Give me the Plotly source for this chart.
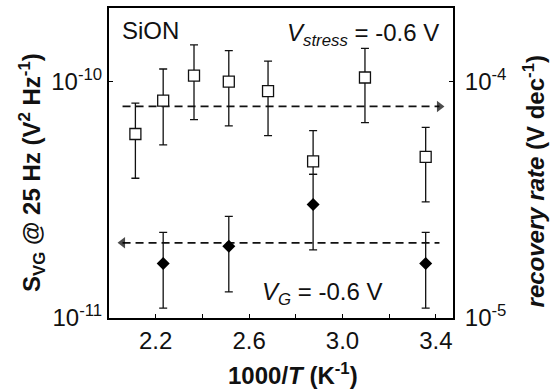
import plotly.graph_objects as go

# 1000/T (K^-1) for 200, 175, 150, 125, 100, 75, 50, 25 degC
inv_temp = [2.113, 2.232, 2.364, 2.513, 2.681, 2.874, 3.096, 3.356]
# recovery rate (V dec^-1), open squares, right axis
rate = [6.0e-5, 8.3e-5, 1.06e-4, 1.0e-4, 9.1e-5, 4.6e-5, 1.04e-4, 4.8e-5]
rate_hi = [8.1e-5, 1.13e-4, 1.43e-4, 1.35e-4, 1.22e-4, 6.2e-5, 1.38e-4, 6.4e-5]
rate_lo = [3.9e-5, 5.4e-5, 6.9e-5, 6.5e-5, 5.9e-5, 4.05e-5, 6.7e-5, 3.1e-5]

# S_VG at 25 Hz (V^2 Hz^-1), filled diamonds, left axis
inv_temp_svg = [2.232, 2.513, 2.874, 3.356]
svg = [1.70e-11, 2.01e-11, 3.02e-11, 1.70e-11]
svg_hi = [2.30e-11, 2.69e-11, 4.05e-11, 2.30e-11]
svg_lo = [1.10e-11, 1.29e-11, 1.94e-11, 1.10e-11]

# dashed guide levels (arrow points to the axis each series belongs to)
guide_x = [2.058, 3.415]
guide_rate = 7.85e-5
guide_svg = 2.08e-11

x_ticks = [2.2, 2.4, 2.6, 2.8, 3.0, 3.2, 3.4]
x_ticktext = ["2.2", "", "2.6", "", "3.0", "", "3.4"]

FONT = "Arial, 'Liberation Sans', sans-serif"
INK = "#111111"

fig = go.Figure()

# guides: dashed line with a solid triangular head at the end
fig.add_trace(go.Scatter(
    x=guide_x, y=[guide_rate, guide_rate], yaxis="y2", mode="lines+markers",
    line=dict(color=INK, width=1.8, dash="8px,5px"),
    marker=dict(symbol="triangle-right", size=[0, 10], color="black", line=dict(width=0)),
    hoverinfo="skip", showlegend=False))
fig.add_trace(go.Scatter(
    x=guide_x, y=[guide_svg, guide_svg], mode="lines+markers",
    line=dict(color=INK, width=1.8, dash="8px,5px"),
    marker=dict(symbol="triangle-left", size=[10, 0], color="black", line=dict(width=0)),
    hoverinfo="skip", showlegend=False))

fig.add_trace(go.Scatter(
    x=inv_temp, y=rate, yaxis="y2", mode="markers",
    error_y=dict(type="data", symmetric=False,
                 array=[h - v for h, v in zip(rate_hi, rate)],
                 arrayminus=[v - l for v, l in zip(rate, rate_lo)],
                 color=INK, thickness=1.3, width=4),
    marker=dict(symbol="square", size=11, color="white",
                line=dict(color=INK, width=1.3)),
    showlegend=False))

fig.add_trace(go.Scatter(
    x=inv_temp_svg, y=svg, mode="markers",
    error_y=dict(type="data", symmetric=False,
                 array=[h - v for h, v in zip(svg_hi, svg)],
                 arrayminus=[v - l for v, l in zip(svg, svg_lo)],
                 color=INK, thickness=1.3, width=4),
    marker=dict(symbol="diamond", size=10, color="black"),
    showlegend=False))

axis_common = dict(showline=True, linecolor="black", linewidth=2,
                   ticks="inside", ticklen=4, tickcolor="black", tickwidth=1,
                   showgrid=False, zeroline=False,
                   tickfont=dict(family=FONT, size=24, color=INK))

fig.update_layout(
    width=556, height=391,
    margin=dict(l=109, r=103, t=6, b=73),
    paper_bgcolor="white", plot_bgcolor="white",
    font=dict(family=FONT, color=INK),
    xaxis=dict(range=[2.0, 3.473], tickvals=x_ticks, ticktext=x_ticktext,
               mirror=True, **axis_common),
    yaxis=dict(type="log", range=[-11, -9.689], tickvals=[1e-11, 1e-10],
               ticktext=["10<sup>-11</sup>", "10<sup>-10</sup>"],
               mirror=True, **axis_common),
    yaxis2=dict(type="log", range=[-5, -3.689], tickvals=[1e-5, 1e-4],
                ticktext=["10<sup>-5</sup>", "10<sup>-4</sup>"],
                overlaying="y", side="right", ticklabelstandoff=5, **axis_common),
)

ann = dict(xref="paper", yref="paper", showarrow=False,
           font=dict(family=FONT, size=24, color=INK))
fig.add_annotation(text="SiON", x=0.032, y=0.926, xanchor="left", yanchor="middle", **ann)
fig.add_annotation(text="<i>V<sub>stress</sub></i> = -0.6 V", x=0.965, y=0.915,
                   xanchor="right", yanchor="middle", **ann)
fig.add_annotation(text="<i>V<sub>G</sub></i> = -0.6 V", x=0.800, y=0.08,
                   xanchor="right", yanchor="middle", **ann)
fig.add_annotation(text="<b>1000/<i>T</i> (K<sup>-1</sup>)</b>", x=0.535, y=-0.18,
                   xanchor="center", yanchor="middle", **ann)
fig.add_annotation(text="<b>S<sub>VG</sub> @ 25 Hz (V<sup>2</sup> Hz<sup>-1</sup>)</b>",
                   x=-0.222, y=0.47, textangle=-90, xanchor="center", yanchor="middle", **ann)
fig.add_annotation(text="<b><i>recovery rate</i> (V dec<sup>-1</sup>)</b>",
                   x=1.235, y=0.44, textangle=-90, xanchor="center", yanchor="middle", **ann)

fig.write_html("out.html")
